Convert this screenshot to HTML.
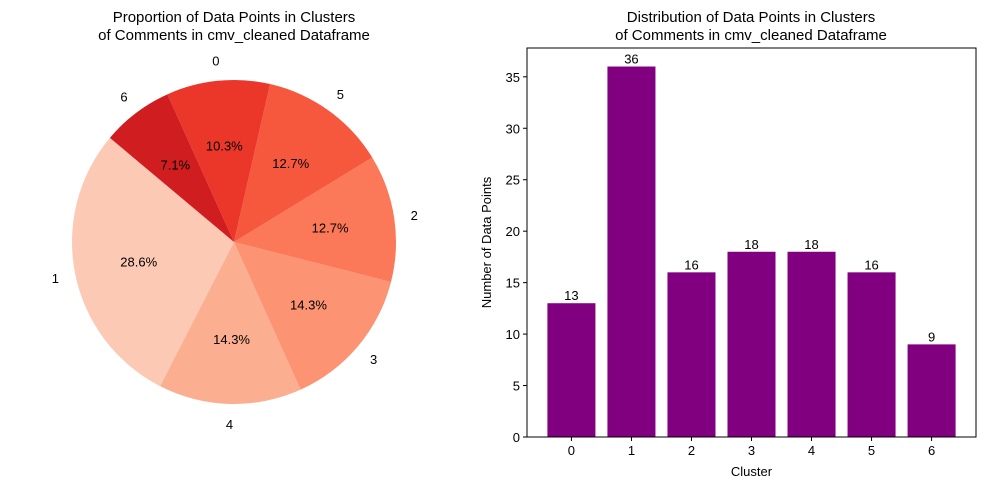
<!DOCTYPE html>
<html><head><meta charset="utf-8"><style>
body{margin:0;background:#fff;}
svg{display:block;font-family:"Liberation Sans","DejaVu Sans",sans-serif;}
</style></head><body>
<svg id="fig" width="984" height="490">
<text x="234" y="22" text-anchor="middle" font-size="15">Proportion of Data Points in Clusters</text>
<text x="234" y="40" text-anchor="middle" font-size="15">of Comments in cmv_cleaned Dataframe</text>
<text x="751" y="22" text-anchor="middle" font-size="15">Distribution of Data Points in Clusters</text>
<text x="751" y="40" text-anchor="middle" font-size="15">of Comments in cmv_cleaned Dataframe</text>
<g id="pie"></g>
<g id="bars"></g>
</svg>
<script>
const categories = ["0","1","2","3","4","5","6"];
const counts = [13,36,16,18,18,16,9];
const yTicks = [0,5,10,15,20,25,30,35];
const pieOrder = ["1","4","3","2","5","0","6"];
const pieColors = ["#fcc9b4","#fcae91","#fc9474","#fb7858","#f6583e","#eb372a","#d01d1f"];

const NS="http://www.w3.org/2000/svg";
function mk(tag,attrs,parent){const e=document.createElementNS(NS,tag);for(const k in attrs)e.setAttribute(k,attrs[k]);parent.appendChild(e);return e;}

// Pie
const pie=document.getElementById('pie');
const cx=234,cy=242,R=162;
const total=counts.reduce((a,b)=>a+b,0);
let ang=140;
function pt(a,r){const t=a*Math.PI/180;return [cx+r*Math.cos(t),cy-r*Math.sin(t)];}
pieOrder.forEach((c,i)=>{
  const v=counts[categories.indexOf(c)];
  const sweep=v/total*360;
  const a0=ang,a1=ang+sweep;
  const p0=pt(a0,R),p1=pt(a1,R);
  const large=sweep>180?1:0;
  const s=mk('path',{d:`M${cx},${cy} L${p0[0]},${p0[1]} A${R},${R} 0 ${large} 0 ${p1[0]},${p1[1]} Z`,fill:pieColors[i]},pie);
  
  
  const mid=(a0+a1)/2;
  const lp=pt(mid,R*1.125);
  const l=mk('text',{x:lp[0],y:lp[1]+5,'text-anchor':'middle','font-size':13},pie);
  l.textContent=c;
  
  
  const pp=pt(mid,R*0.6);
  const p=mk('text',{x:pp[0],y:pp[1]+5,'text-anchor':'middle','font-size':13},pie);
  p.textContent=(v/total*100).toFixed(1)+'%';
  
  
  ang=a1;
});

// Bars
const bars=document.getElementById('bars');
const L=527,Rt=976,T=48,B=437;
const yMax=37.8;
const y=v=>B-(v/yMax)*(B-T);
const xMin=-0.74,xMax=categories.length-1+0.74;
const x=i=>L+(i-xMin)/(xMax-xMin)*(Rt-L);
const step=(Rt-L)/(xMax-xMin);
categories.forEach((c,i)=>{
  const cxp=x(i),w=step*0.8;
  const r=mk('rect',{x:cxp-w/2,y:y(counts[i]),width:w,height:B-y(counts[i]),fill:'#800080'},bars);
  
  
  const t=mk('text',{x:cxp,y:y(counts[i])-3,'text-anchor':'middle','font-size':13},bars);
  t.textContent=counts[i];
  
  
  mk('line',{x1:cxp,x2:cxp,y1:B,y2:B+4,stroke:'#000'},bars);
  const tl=mk('text',{x:cxp,y:B+18,'text-anchor':'middle','font-size':13},bars);
  tl.textContent=c;
  
  
});
yTicks.forEach(v=>{
  mk('line',{x1:L-4,x2:L,y1:y(v),y2:y(v),stroke:'#000'},bars);
  const t=mk('text',{x:L-7,y:y(v)+5,'text-anchor':'end','font-size':13},bars);
  t.textContent=v;
  
  
});
const fr=mk('rect',{x:L,y:T,width:Rt-L,height:B-T,fill:'none',stroke:'#000','stroke-width':1},bars);


const xl=mk('text',{x:(L+Rt)/2,y:476,'text-anchor':'middle','font-size':13},bars);
xl.textContent='Cluster';


const yl=mk('text',{x:0,y:0,'text-anchor':'middle','font-size':13,transform:`translate(490,${(T+B)/2}) rotate(-90)`},bars);
yl.setAttribute('transform',`translate(491,${(T+B)/2}) rotate(-90)`);
yl.textContent='Number of Data Points';


</script>
</body></html>
